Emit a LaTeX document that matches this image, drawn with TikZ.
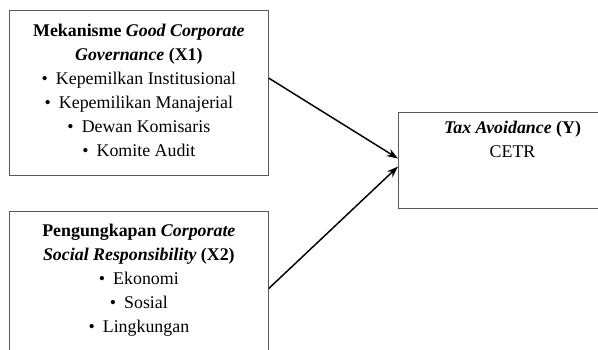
\documentclass[tikz,border=0pt]{standalone}
\usepackage{fontspec}
\setmainfont{Liberation Serif}
\usetikzlibrary{arrows.meta, positioning, calc}
\tikzset{
	>={Stealth[length=8.5pt, width=6pt]}, % arrow heads
	frame/.style={draw=black!65, line width=0.8pt, minimum width=194pt, inner sep=0pt, anchor=north west}, % the boxes
	txt/.style={align=center, inner sep=0pt, font=\fontsize{13.4}{18}\selectfont}, % text inside the boxes
	link/.style={->, line width=1.1pt}, % connecting arrows
}
\newcommand{\itm}[1]{\textbullet\hspace{0.45em}#1}

\begin{document}
\begin{tikzpicture}[x=0.75pt, y=-0.75pt]
	\clip (0,0) rectangle (598,349);
	\node[frame, minimum height=123.75pt] (x1) at (9,10) {};
	\node[frame, minimum height=115.5pt] (x2) at (9,211) {};
	\node[frame, minimum width=171pt, minimum height=72pt] (y) at (398,112) {};
	\node[txt, below=10.5pt of x1.north] (x1txt) {\textbf{Mekanisme \textit{Good Corporate}}\\
		\textbf{\textit{Governance} (X1)}\\
		\itm{Kepemilkan Institusional}\\
		\itm{Kepemilikan Manajerial}\\
		\itm{Dewan Komisaris}\\
		\itm{Komite Audit}};
	\node[txt, below=9.75pt of x2.north] (x2txt) {\textbf{Pengungkapan \textit{Corporate}}\\
		\textbf{\textit{Social Responsibility} (X2)}\\
		\itm{Ekonomi}\\
		\itm{Sosial}\\
		\itm{Lingkungan}};
	\node[txt, below=6.5pt of y.north] (ytxt) {\textbf{\textit{Tax Avoidance} (Y)}\\
		CETR};
	\draw[link] ($(x1.north east)!0.41!(x1.south east)$) -- ([yshift=1.5pt]y.west);
	\draw[link] (x2.east) -- ([yshift=-4.5pt]y.west);
\end{tikzpicture}
\end{document}
